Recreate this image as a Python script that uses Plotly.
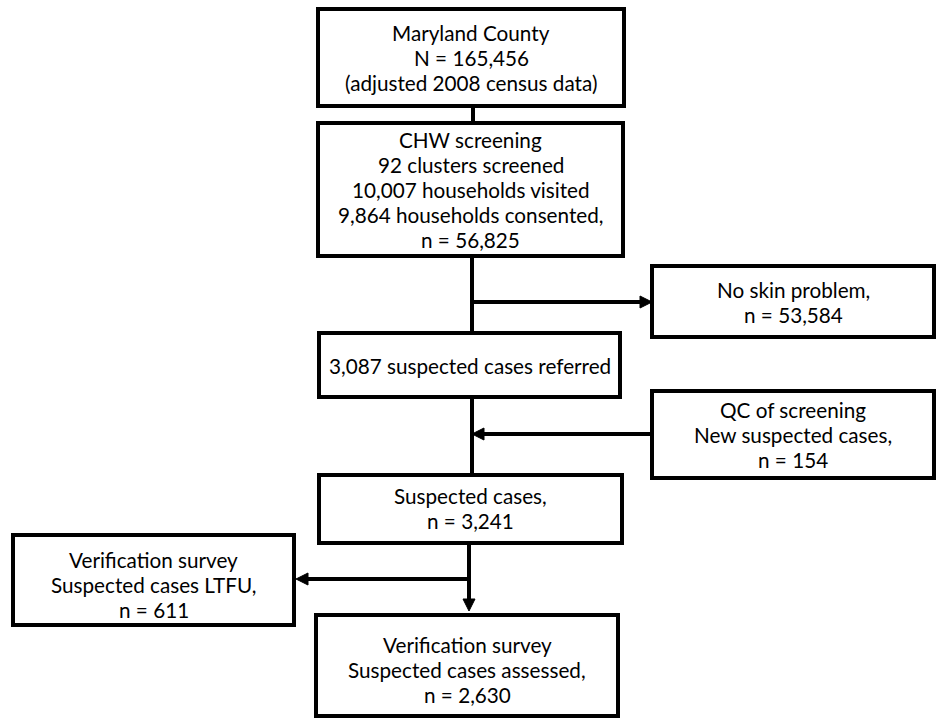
import plotly.graph_objects as go

# ---- data ----
county_name = "Maryland County"
county_population = 165456
census_year = 2008
clusters_screened = 92
households_visited = 10007
households_consented = 9864
people_screened = 56825
no_skin_problem = 53584
cases_referred = 3087
qc_new_cases = 154
suspected_cases = 3241
cases_ltfu = 611
cases_assessed = 2630

node_names = ["county", "chw", "noskin", "referred", "qc", "suspected", "ltfu", "assessed"]
node_texts = {
    "county": [county_name, f"N = {county_population:,}", f"(adjusted {census_year} census data)"],
    "chw": ["CHW screening", f"{clusters_screened} clusters screened",
            f"{households_visited:,} households visited",
            f"{households_consented:,} households consented,", f"n = {people_screened:,}"],
    "noskin": ["No skin problem,", f"n = {no_skin_problem:,}"],
    "referred": [f"{cases_referred:,} suspected cases referred"],
    "qc": ["QC of screening", "New suspected cases,", f"n = {qc_new_cases}"],
    "suspected": ["Suspected cases,", f"n = {suspected_cases:,}"],
    "ltfu": ["Verification survey", "Suspected cases LTFU,", f"n = {cases_ltfu}"],
    "assessed": ["Verification survey", "Suspected cases assessed,", f"n = {cases_assessed:,}"],
}

# ---- layout geometry (pixel space of the 936x718 canvas) ----
W, H = 936, 718
box_geom = {
    "county": (318, 9, 624, 106),
    "chw": (318, 123, 623, 256),
    "noskin": (652, 266, 934, 337),
    "referred": (319, 333, 620, 397),
    "qc": (652, 391, 934, 478),
    "suspected": (319, 475, 622, 543),
    "ltfu": (13, 535, 294, 625),
    "assessed": (316, 615, 618, 716),
}
text_center_y = {
    "county": 57.5, "chw": 190, "noskin": 302.5, "referred": 366,
    "qc": 435, "suspected": 508, "ltfu": 585, "assessed": 670,
}
LINE_STEP = 25
FONT_SIZE = 20.7
# connector segments (no arrowhead)
segments = [
    ((473, 106), (473, 123)),
    ((472, 256), (472, 333)),
    ((472, 397), (472, 475)),
    ((469, 543), (469, 598)),
]
# arrows: start -> tip
arrows = [
    ((472, 302), (652, 302)),
    ((652, 434), (472, 434)),
    ((469, 579), (296, 579)),
    ((469, 560), (469, 611)),
]
LW = 4
HEAD_L, HEAD_W = 12, 6

shapes = []
for name in node_names:
    x0, y0, x1, y1 = box_geom[name]
    shapes.append(dict(type="rect", xref="x", yref="y", x0=x0, y0=y0, x1=x1, y1=y1,
                       line=dict(color="black", width=LW), fillcolor="white", layer="above"))
for (a, b) in segments:
    shapes.append(dict(type="line", xref="x", yref="y", x0=a[0], y0=a[1], x1=b[0], y1=b[1],
                       line=dict(color="black", width=LW)))
for (a, b) in arrows:
    dx = b[0] - a[0]
    dy = b[1] - a[1]
    L = (dx * dx + dy * dy) ** 0.5
    ux, uy = dx / L, dy / L
    bx, by = b[0] - ux * HEAD_L, b[1] - uy * HEAD_L
    shapes.append(dict(type="line", xref="x", yref="y", x0=a[0], y0=a[1], x1=bx + ux, y1=by + uy,
                       line=dict(color="black", width=LW)))
    px, py = -uy, ux
    path = (f"M {b[0]} {b[1]} L {bx + px * HEAD_W} {by + py * HEAD_W} "
            f"L {bx - px * HEAD_W} {by - py * HEAD_W} Z")
    shapes.append(dict(type="path", xref="x", yref="y", path=path,
                       fillcolor="black", line=dict(color="black", width=1)))

annotations = []
for name in node_names:
    x0, y0, x1, y1 = box_geom[name]
    lines = node_texts[name]
    n = len(lines)
    for i, line in enumerate(lines):
        annotations.append(dict(x=(x0 + x1) / 2,
                                y=text_center_y[name] + (i - (n - 1) / 2) * LINE_STEP,
                                xref="x", yref="y", text=line, showarrow=False,
                                xanchor="center", yanchor="middle", align="center",
                                font=dict(family="Lato", size=FONT_SIZE, color="black")))

fig = go.Figure()
fig.add_trace(go.Scatter(x=[0, W], y=[0, H], mode="markers", marker=dict(opacity=0),
                         hoverinfo="skip", showlegend=False))
fig.update_layout(
    width=W, height=H, margin=dict(l=0, r=0, t=0, b=0),
    paper_bgcolor="white", plot_bgcolor="white",
    xaxis=dict(range=[0, W], visible=False, fixedrange=True),
    yaxis=dict(range=[H, 0], visible=False, fixedrange=True),
    shapes=shapes, annotations=annotations, showlegend=False,
)
fig.write_html("out.html", config={"displayModeBar": False},
               post_script="document.body.style.margin='0';document.body.style.overflow='hidden';")
